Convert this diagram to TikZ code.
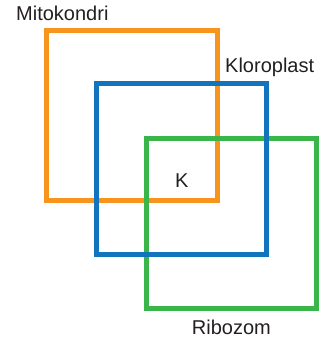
\documentclass[tikz,border=0pt]{standalone}
\usepackage{fontspec}
\setmainfont{Liberation Sans}
\definecolor{cOrange}{HTML}{F7941D}
\definecolor{cBlue}{HTML}{1174BC}
\definecolor{cGreen}{HTML}{39B54A}
\definecolor{cText}{HTML}{231F20}
\begin{document}
\begin{tikzpicture}[x=1pt,y=-1pt,
  sq/.style={line width=5pt,line join=miter},
  lbl/.style={anchor=base west,inner sep=0pt,text=cText,font=\fontsize{20}{24}\selectfont}]
\useasboundingbox (0,0) rectangle (320,339);
\draw[sq,cOrange] (46.5,30.5) rectangle (217.5,200);
\draw[sq,cGreen] (146,138.3) rectangle (316.5,308.5);
\draw[sq,cBlue] (96.5,83.5) rectangle (266.5,254.5);
\node[lbl] (mito) at (16,20.7) {Mitokondri};
\node[lbl] (kloro) at (225,72.3) {Kloroplast};
\node[lbl] (k) at (175,187.7) {K};
\node[lbl] (ribo) at (191.7,334) {Ribozom};
\end{tikzpicture}
\end{document}
